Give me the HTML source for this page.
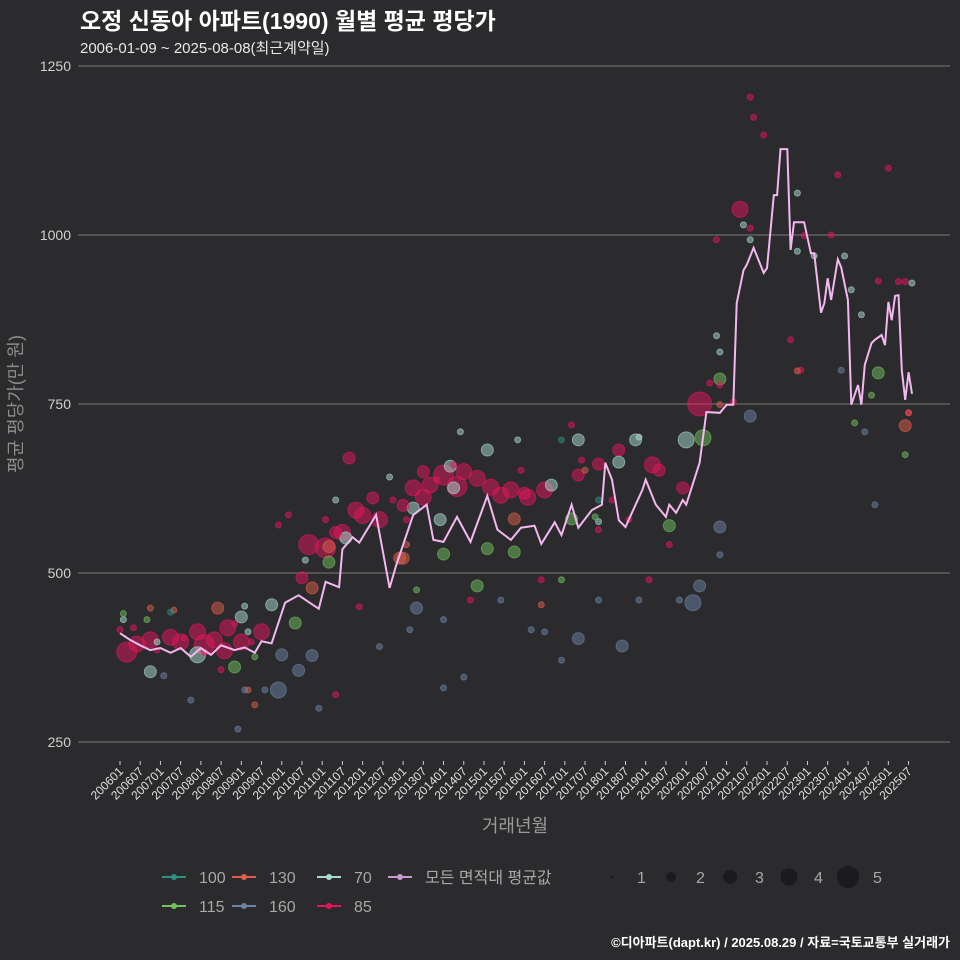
<!DOCTYPE html>
<html><head><meta charset="utf-8">
<style>
html,body{margin:0;padding:0;background:#2b2a2c;}
svg{display:block;font-family:"Liberation Sans","Noto Sans CJK KR",sans-serif;}
</style></head>
<body>
<svg id="chart" width="960" height="960" viewBox="0 0 960 960">
<rect x="0" y="0" width="960" height="960" fill="#2b2a2c"/>
<text x="80" y="29" font-size="23" font-weight="bold" fill="#ffffff">오정 신동아 아파트(1990) 월별 평균 평당가</text>
<text x="80" y="53" font-size="15" fill="#e8e8e8">2006-01-09 ~ 2025-08-08(최근계약일)</text>
<g id="grid"></g>
<g id="yticks"></g>
<g id="xticks"></g>
<g id="bubbles"></g>
<path id="avgline" fill="none" stroke="#f2b8ef" stroke-width="2"/>
<text x="0" y="0" transform="translate(22,404) rotate(-90)" text-anchor="middle" font-size="18" fill="#8c8c8c">평균 평당가(만 원)</text>
<text x="515" y="832" text-anchor="middle" font-size="18" fill="#9a9a9a">거래년월</text>
<g id="legend"></g>
<text x="950" y="947" text-anchor="end" font-size="13" font-weight="bold" fill="#ffffff">©디아파트(dapt.kr) / 2025.08.29 / 자료=국토교통부 실거래가</text>
</svg>
<script>
// month index counted from 2006-01
const lineMonths = [0,3,6,9,12,15,18,21,24,27,30,34,37,40,42,45,49,53,59,61,65,66,69,71,76,80,82,87,91,93,96,100,104,109,112,116,119,123,125,129,131,134,136,140,143,144,146,148,150,152,155,156,159,162,163,165,167,168,172,174,178,180,182,183,185,186,188,191,192,194,195,196,198,199,200,203,205,206,208,209,210,211,213,214,216,217,219,220,221,223,224,226,227,228,229,230,231,232,233,234,235];
const lineValues = [411,401,393,386,389,382,389,376,389,379,393,386,390,382,399,396,456,467,447,487,479,535,553,545,586,478,512,586,601,549,546,583,546,614,564,549,567,570,543,575,556,601,567,593,601,663,638,578,568,590,623,638,601,583,601,589,608,601,663,738,737,749,749,899,948,956,981,944,951,1059,1059,1127,1127,978,1019,1019,973,973,885,899,936,904,964,952,904,749,778,749,808,840,845,852,837,901,874,910,911,800,756,797,765];
const seriesNames = ["100","115","130","160","70","85"];
const seriesColors = {"100":"#2e8f83","115":"#72c05e","130":"#de5f4c","160":"#6b83a6","70":"#a9dbd2","85":"#e3155b"};
// bubble data: month index, value, series, transaction count
const bubMonths = [2,9,15,23,25,28,32,36,42,54,56,61,68,70,75,77,87,92,96,102,110,116,120,126,136,142,148,158,160,167,172,184,187,191,187,188,213,228,231,225,233,177,
0,4,11,19,25,30,34,39,47,50,61,64,71,81,85,94,99,104,119,125,134,137,142,146,151,157,163,175,178,182,199,202,203,211,234,
29,62,57,83,117,84,233,9,16,38,40,85,125,138,201,178,234,
9,23,36,45,67,109,98,99,87,95,128,136,148,153,168,
1,11,37,38,55,64,80,101,118,142,154,177,178,185,187,201,201,206,215,217,220,235,
34,52,62,109,117,96,106,134,163,178,173,225,1,8,40,88,131,141,218,233,223,
48,57,53,47,88,136,149,170,172,187,178,13,21,37,43,59,77,86,96,96,102,113,122,126,131,142,154,166,178,214,221,224,35,
15,142,131,
66,72,90,100,106,113,121,90,5,18,31,64,84];
const bubValues = [383,401,405,413,394,401,419,398,413,493,542,537,670,593,611,579,626,630,645,650,627,623,618,623,645,661,682,660,652,626,750,1038,1010,1148,1204,1174,1089,1099,931,932,931,993,
416,419,386,404,383,357,425,398,571,586,579,320,450,608,579,638,660,460,652,490,719,667,564,608,579,490,542,781,778,753,845,800,999,1000,737,
448,539,478,522,580,522,718,448,445,327,305,542,453,652,799,749,737,
354,379,435,453,552,682,658,626,596,579,630,697,664,697,697,
431,398,451,413,519,608,642,709,697,576,701,851,827,1015,993,1062,976,969,969,919,882,929,
361,426,516,536,531,528,481,580,570,787,700,796,440,431,376,475,490,583,722,675,763,
379,378,356,327,448,403,392,456,481,732,568,348,312,327,327,300,391,416,431,330,346,460,416,413,371,460,460,460,527,800,709,601,269,
442,608,697,
560,585,612,628,640,615,612,650,395,398,385,560,600];
const bubSeries = [].concat(
  Array(42).fill("85"), Array(35).fill("85"),
  Array(7).fill("130"), Array(10).fill("130"),
  Array(15).fill("70"), Array(22).fill("70"),
  Array(12).fill("115"), Array(9).fill("115"),
  Array(11).fill("160"), Array(22).fill("160"),
  Array(3).fill("100"),
  Array(13).fill("85"));
const bubCounts = [4,3,3,3,4,3,3,3,3,2,4,4,2,3,2,3,3,3,4,3,3,3,2,3,2,2,2,3,2,2,5,3,1,1,1,1,1,1,1,1,1,1,
1,1,1,1,1,1,1,1,1,1,1,1,1,1,1,1,1,1,1,1,1,1,1,1,1,1,1,1,1,1,1,1,1,1,1,
2,2,2,2,2,2,2,1,1,1,1,1,1,1,1,1,1,
2,3,2,2,2,2,2,2,2,2,2,2,2,2,3,
1,1,1,1,1,1,1,1,1,1,1,1,1,1,1,1,1,1,1,1,1,1,
2,2,2,2,2,2,2,2,2,2,3,2,1,1,1,1,1,1,1,1,1,
2,2,2,3,2,2,2,3,2,2,2,1,1,1,1,1,1,1,1,1,1,1,1,1,1,1,1,1,1,1,1,1,1,
1,1,1,
3,3,3,4,3,3,3,2,3,3,3,2,2];
const yTicks = [250,500,750,1000,1250];
const xTickLabels = [];
for (let y = 2006; y <= 2025; y++) { xTickLabels.push(y + "01"); xTickLabels.push(y + "07"); }

const NS = "http://www.w3.org/2000/svg";
const X0 = 120, PXM = 3.37, YB = 742, PXV = 0.676;
function xScale(m){ return X0 + m * PXM; }
function yScale(v){ return YB - (v - 250) * PXV; }
function rScale(n){ return [0,3,6,8,10,12][n]; }
function mk(tag, attrs, parent){ const e = document.createElementNS(NS, tag); for (const k in attrs) e.setAttribute(k, attrs[k]); parent.appendChild(e); return e; }

const grid = document.getElementById('grid'), yt = document.getElementById('yticks');
yTicks.forEach(v => {
  const l = mk('line', {x1:78, x2:950, y1:yScale(v), y2:yScale(v), stroke:'#6a6a6a', 'stroke-width':1.2}, grid);
  
  
  const t = mk('text', {x:71, y:yScale(v)+5, 'text-anchor':'end', 'font-size':14, fill:'#d0d0d0'}, yt);
  t.textContent = v;
  
  
});
const xt = document.getElementById('xticks');
xTickLabels.forEach((lab, i) => {
  const m = (parseInt(lab.slice(0,4)) - 2006) * 12 + parseInt(lab.slice(4)) - 1;
  if (m > 235) return;
  const x = xScale(m);
  const tk = mk('line', {x1:x, x2:x, y1:761, y2:765, stroke:'#cccccc', 'stroke-width':1}, xt);
  
  
  const t = mk('text', {x:0, y:0, transform:'translate(' + (x+4) + ',772) rotate(-45)', 'text-anchor':'end', 'font-size':12, fill:'#e0e0e0'}, xt);
  t.textContent = lab;
  
  
});
const bg = document.getElementById('bubbles');
const order = bubCounts.map((c,i)=>i).sort((a,b)=>bubCounts[b]-bubCounts[a]);
order.forEach(i => {
  const col = seriesColors[bubSeries[i]];
  const c = mk('circle', {cx:xScale(bubMonths[i]), cy:yScale(bubValues[i]), r:rScale(bubCounts[i]), fill:col, 'fill-opacity':0.5, stroke:col, 'stroke-opacity':0.6, 'stroke-width':1}, bg);
  
  
});
let d = '';
lineMonths.forEach((m, i) => { d += (i ? 'L' : 'M') + xScale(m).toFixed(1) + ',' + yScale(lineValues[i]).toFixed(1); });
document.getElementById('avgline').setAttribute('d', d);

const lg = document.getElementById('legend');
const legItems = [["100",162,877],["130",232,877],["70",317,877],["모든 면적대 평균값",388,877],["115",162,906],["160",232,906],["85",317,906]];
legItems.forEach(it => {
  const col = it[0] === "모든 면적대 평균값" ? "#c99bd0" : seriesColors[it[0]];
  const g = mk('g', {}, lg);
  
  
  mk('line', {x1:it[1], x2:it[1]+24, y1:it[2], y2:it[2], stroke:col, 'stroke-width':2}, g);
  mk('circle', {cx:it[1]+12, cy:it[2], r:3, fill:col}, g);
  const t = mk('text', {x:it[1]+37, y:it[2]+6, 'font-size':16, fill:'#a8a8a8'}, g);
  t.textContent = it[0];
});
const sizeLabels = [1,2,3,4,5];
const sizeX = [612,671,730,789,848];
sizeLabels.forEach((n, i) => {
  const g = mk('g', {}, lg);
  
  
  mk('circle', {cx:sizeX[i], cy:877, r:[1.5,5,7,8.5,11][i], fill:'#1b1a1c'}, g);
  const t = mk('text', {x:sizeX[i]+25, y:883, 'font-size':16, fill:'#a8a8a8'}, g);
  t.textContent = n;
});
</script>
</body></html>
